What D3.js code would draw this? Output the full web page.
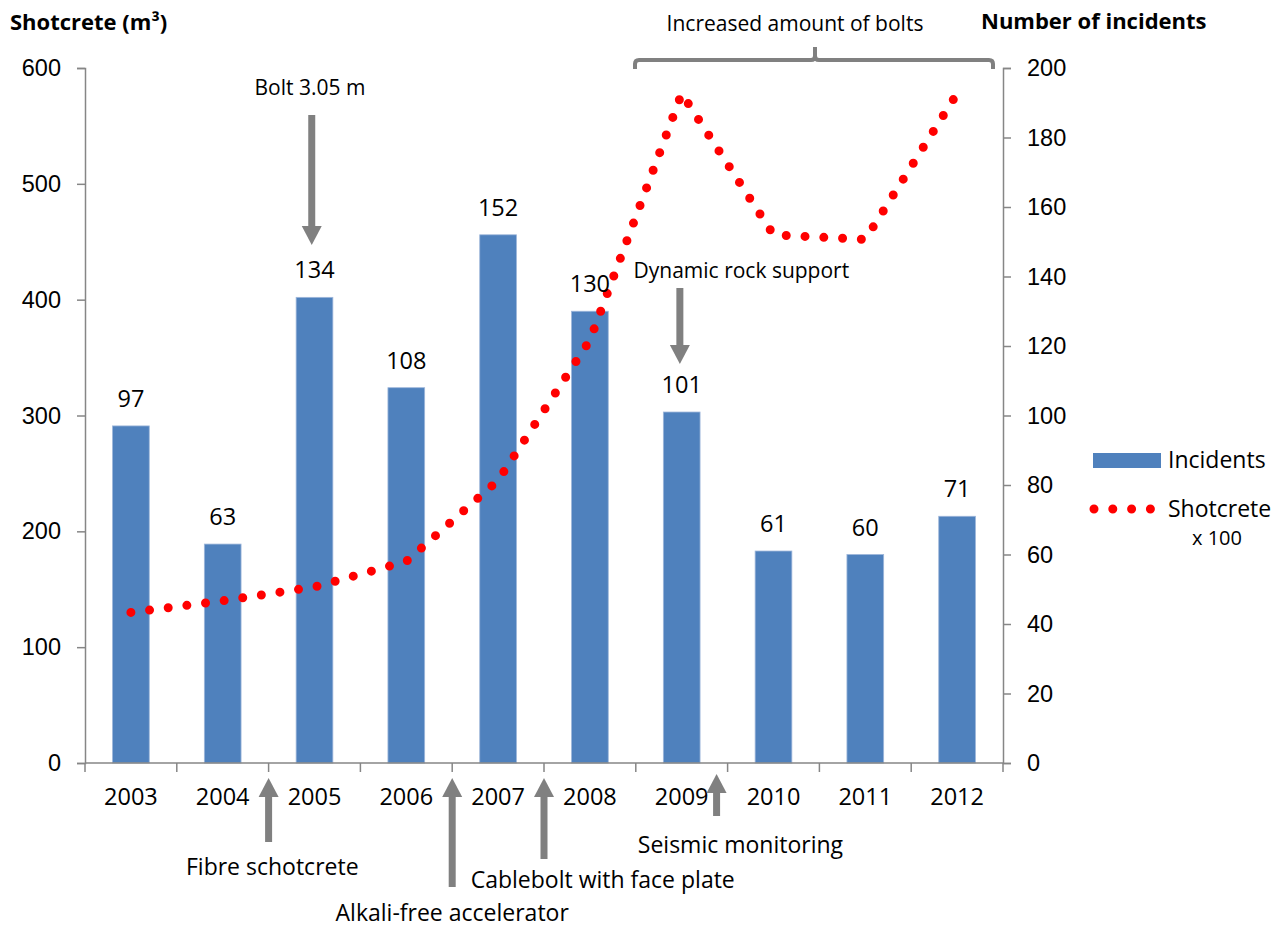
<!DOCTYPE html>
<html>
<head>
<meta charset="utf-8">
<script src="https://cdn.jsdelivr.net/npm/d3@7"></script>
<style>
  html, body { margin: 0; padding: 0; background: #fff; }
  svg { display: block; font-family: "Open Sans", Lato, sans-serif; }
  .axis path, .axis line { stroke: #868686; stroke-width: 1.5; }
  .axis text { font-size: 23.5px; fill: #000; }
  .note { fill: #000; }
</style>
</head>
<body>
<svg id="chart" width="1284" height="928"></svg>
<script>
// Years on the category axis
const years = ["2003", "2004", "2005", "2006", "2007", "2008", "2009", "2010", "2011", "2012"];
// Number of incidents per year (right axis, bars)
const incidents = [97, 63, 134, 108, 152, 130, 101, 61, 60, 71];
// Shotcrete volume per year (left axis, dotted line)
const shotcrete = [130, 140, 152, 174, 244, 365, 578, 456, 452, 578];
// Axis ticks
const leftTicks = [0, 100, 200, 300, 400, 500, 600];
const rightTicks = [0, 20, 40, 60, 80, 100, 120, 140, 160, 180, 200];

// Measures introduced over time, placed on the year axis (index units, 0 = left edge)
const downNotes = [
  { text: "Bolt 3.05 m", at: 2.47, textX: 2.45, textY: 95, top: 115, tip: 245, size: 21 },
  { text: "Dynamic rock support", at: 6.48, textX: 7.15, textY: 278, top: 288, tip: 364, size: 21 }
];
const upNotes = [
  { text: "Fibre schotcrete", at: 2.0, textX: 2.04, textY: 875, tip: 778, bottom: 842, size: 23 },
  { text: "Alkali-free accelerator", at: 4.0, textX: 4.0, textY: 921, tip: 778, bottom: 887, size: 23 },
  { text: "Cablebolt with face plate", at: 5.0, textX: 5.64, textY: 888, tip: 778, bottom: 859, size: 23 },
  { text: "Seismic monitoring", at: 6.88, textX: 7.14, textY: 853, tip: 774, bottom: 816, size: 23 }
];

const svg = d3.select("#chart");
const margin = { left: 85, right: 281, top: 68, bottom: 165 };
const W = 1284, H = 928;
const x0 = margin.left, x1 = W - margin.right;
const yTop = margin.top, yBot = H - margin.bottom;

const x = d3.scaleBand().domain(years).range([x0, x1]).paddingInner(0).paddingOuter(0);
const xi = d3.scaleLinear().domain([0, years.length]).range([x0, x1]); // continuous index position
const yL = d3.scaleLinear().domain([0, 600]).range([yBot, yTop]);
const yR = d3.scaleLinear().domain([0, 200]).range([yBot, yTop]);

const barW = x.bandwidth() * 0.4;

// Bars (right axis)
svg.append("g").selectAll("rect").data(years).join("rect")
  .attr("x", (d) => x(d) + (x.bandwidth() - barW) / 2)
  .attr("y", (d, i) => yR(incidents[i]))
  .attr("width", barW)
  .attr("height", (d, i) => yBot - yR(incidents[i]))
  .attr("fill", "#4F81BD")
  .attr("stroke", "#9db6da")
  .attr("stroke-width", 0.8);

// Axes
svg.append("g").attr("class", "axis")
  .attr("transform", `translate(${x0},0)`)
  .call(d3.axisLeft(yL).tickValues(leftTicks).tickSize(8).tickSizeOuter(8).tickPadding(16));
svg.append("g").attr("class", "axis")
  .attr("transform", `translate(${x1},0)`)
  .call(d3.axisRight(yR).tickValues(rightTicks).tickSize(8).tickSizeOuter(8).tickPadding(16));

// Category axis: ticks at the band edges, labels at band centres
const xAxis = svg.append("g").attr("class", "axis").attr("transform", `translate(0,${yBot})`);
xAxis.append("line").attr("x1", x0).attr("x2", x1).attr("y1", 0).attr("y2", 0);
xAxis.selectAll("line.tk").data(d3.range(years.length + 1)).join("line")
  .attr("class", "tk")
  .attr("x1", (d) => xi(d)).attr("x2", (d) => xi(d))
  .attr("y1", 0).attr("y2", 9);
xAxis.selectAll("text").data(years).join("text")
  .attr("x", (d) => x(d) + x.bandwidth() / 2)
  .attr("y", 42)
  .attr("text-anchor", "middle")
  .text((d) => d);

// Dotted shotcrete line (left axis)
const line = d3.line()
  .x((d, i) => x(years[i]) + x.bandwidth() / 2)
  .y((d) => yL(d));
svg.append("path")
  .datum(shotcrete)
  .attr("d", line)
  .attr("fill", "none")
  .attr("stroke", "#FF0000")
  .attr("stroke-width", 9)
  .attr("stroke-linecap", "round")
  .attr("stroke-dasharray", "0 18.8");

// Value labels above the bars
svg.append("g").selectAll("text").data(years).join("text")
  .attr("x", (d) => x(d) + x.bandwidth() / 2)
  .attr("y", (d, i) => yR(incidents[i]) - 19)
  .attr("text-anchor", "middle")
  .style("font-size", "23.5px")
  .text((d, i) => incidents[i]);

// Axis titles
svg.append("text").attr("x", 10).attr("y", 30)
  .style("font-size", "22px").style("font-weight", "bold")
  .html("Shotcrete (m<tspan>³</tspan>)");
svg.append("text").attr("x", 981).attr("y", 29)
  .style("font-size", "22px").style("font-weight", "bold")
  .text("Number of incidents");

// Arrow helper: shaft plus triangular head
const grey = "#808080";
function arrow(g, xPos, yFrom, yTip) {
  const dir = yTip > yFrom ? 1 : -1;
  const headLen = 19, headHalf = 10, shaft = 7;
  const yBase = yTip - dir * headLen;
  g.append("rect")
    .attr("x", xPos - shaft / 2)
    .attr("y", Math.min(yFrom, yBase))
    .attr("width", shaft)
    .attr("height", Math.abs(yBase - yFrom))
    .attr("fill", grey);
  g.append("path")
    .attr("d", `M${xPos - headHalf},${yBase}L${xPos + headHalf},${yBase}L${xPos},${yTip}Z`)
    .attr("fill", grey);
}

const notes = svg.append("g");
downNotes.forEach((n) => {
  arrow(notes, xi(n.at), n.top, n.tip);
  notes.append("text").attr("class", "note")
    .attr("x", xi(n.textX)).attr("y", n.textY)
    .style("font-size", n.size + "px")
    .attr("text-anchor", "middle").text(n.text);
});
upNotes.forEach((n) => {
  arrow(notes, xi(n.at), n.bottom, n.tip);
  notes.append("text").attr("class", "note")
    .attr("x", xi(n.textX)).attr("y", n.textY)
    .style("font-size", n.size + "px")
    .attr("text-anchor", "middle").text(n.text);
});

// Bracket spanning the later years
const bx0 = 635, bx1 = 993, bMid = 815, bY = 60;
svg.append("path")
  .attr("d", `M${bx0},${bY + 9} L${bx0},${bY + 4} Q${bx0},${bY} ${bx0 + 4},${bY}
              L${bMid - 4},${bY} Q${bMid},${bY} ${bMid},${bY - 4} L${bMid},${bY - 13}
              M${bMid},${bY - 4} Q${bMid},${bY} ${bMid + 4},${bY}
              L${bx1 - 4},${bY} Q${bx1},${bY} ${bx1},${bY + 4} L${bx1},${bY + 9}`)
  .attr("fill", "none")
  .attr("stroke", grey)
  .attr("stroke-width", 4);
svg.append("text").attr("class", "note")
  .attr("x", 795).attr("y", 31)
  .style("font-size", "21px")
  .attr("text-anchor", "middle").text("Increased amount of bolts");

// Legend
const lg = svg.append("g");
lg.append("rect").attr("x", 1093).attr("y", 453).attr("width", 68).attr("height", 15).attr("fill", "#4F81BD");
lg.append("text").attr("x", 1168).attr("y", 468).style("font-size", "23px").text("Incidents");
lg.append("line")
  .attr("x1", 1094).attr("x2", 1152).attr("y1", 509).attr("y2", 509)
  .attr("stroke", "#FF0000").attr("stroke-width", 9)
  .attr("stroke-linecap", "round").attr("stroke-dasharray", "0 18.8");
lg.append("text").attr("x", 1168).attr("y", 517).style("font-size", "23px").text("Shotcrete");
lg.append("text").attr("x", 1217).attr("y", 545).attr("text-anchor", "middle").style("font-size", "20px").text("x 100");
</script>
</body>
</html>
